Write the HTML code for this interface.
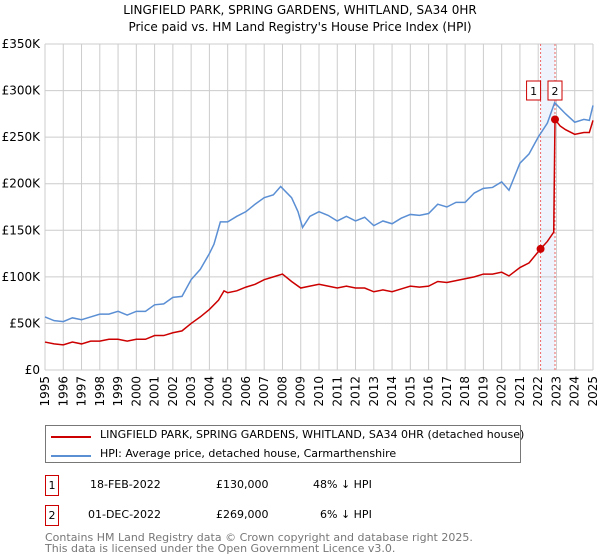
<!DOCTYPE html>
<html><head><meta charset="utf-8"><style>
body{margin:0;background:#fff;font-family:"DejaVu Sans","Liberation Sans",sans-serif;}
#wrap{position:relative;width:600px;height:560px;overflow:hidden}
.t{position:absolute;font-size:12px;color:#000;white-space:nowrap}
</style></head><body><div id="wrap">
<svg id="chart" width="600" height="420" style="position:absolute;left:0;top:0"></svg>
<div style="position:absolute;left:45px;top:425px;width:474px;height:36px;border:1px solid #777"></div>
<div style="position:absolute;left:51px;top:436px;width:40px;height:2px;background:#cc0000"></div>
<div class="t" style="left:100px;top:428px;font-size:11px">LINGFIELD PARK, SPRING GARDENS, WHITLAND, SA34 0HR (detached house)</div>
<div style="position:absolute;left:51px;top:455px;width:40px;height:2px;background:#5b8fd4"></div>
<div class="t" style="left:100px;top:447px;font-size:11px">HPI: Average price, detached house, Carmarthenshire</div>
<div style="position:absolute;left:45px;top:475px;width:12px;height:19px;border:1px solid #cc0000;font-size:11px;text-align:center;line-height:19px">1</div>
<div class="t" style="left:90px;top:478px;font-size:11px">18-FEB-2022</div>
<div class="t" style="left:216px;top:478px;font-size:11px">£130,000</div>
<div class="t" style="left:313px;top:478px;font-size:11px">48% ↓ HPI</div>
<div style="position:absolute;left:45px;top:505px;width:12px;height:19px;border:1px solid #cc0000;font-size:11px;text-align:center;line-height:19px">2</div>
<div class="t" style="left:88px;top:508px;font-size:11px">01-DEC-2022</div>
<div class="t" style="left:216px;top:508px;font-size:11px">£269,000</div>
<div class="t" style="left:320px;top:508px;font-size:11px">6% ↓ HPI</div>
<div class="t" style="left:45px;top:532px;font-size:11px;color:#777;line-height:11px">Contains HM Land Registry data © Crown copyright and database right 2025.<br>This data is licensed under the Open Government Licence v3.0.</div>
</div>
<script>
const yearTicks=[1995,1996,1997,1998,1999,2000,2001,2002,2003,2004,2005,2006,2007,2008,2009,2010,2011,2012,2013,2014,2015,2016,2017,2018,2019,2020,2021,2022,2023,2024,2025];
const priceTicks=[0,50,100,150,200,250,300,350];
const priceLabels=["£0","£50K","£100K","£150K","£200K","£250K","£300K","£350K"];
const hpiT=[1995,1995.5,1996,1996.5,1997,1997.5,1998,1998.5,1999,1999.5,2000,2000.5,2001,2001.5,2002,2002.5,2003,2003.5,2004,2004.25,2004.6,2005,2005.5,2006,2006.5,2007,2007.5,2007.9,2008.5,2008.85,2009.1,2009.5,2010,2010.5,2011,2011.5,2012,2012.5,2013,2013.5,2014,2014.5,2015,2015.5,2016,2016.5,2017,2017.5,2018,2018.5,2019,2019.5,2020,2020.4,2021,2021.5,2022,2022.5,2022.9,2023.5,2024,2024.5,2024.8,2025];
const hpiV=[57,53,52,56,54,57,60,60,63,59,63,63,70,71,78,79,97,108,125,135,159,159,165,170,178,185,188,197,185,170,153,165,170,166,160,165,160,164,155,160,157,163,167,166,168,178,175,180,180,190,195,196,202,193,222,232,250,265,287,275,266,269,268,284];
const ppT=[1995,1995.5,1996,1996.5,1997,1997.5,1998,1998.5,1999,1999.5,2000,2000.5,2001,2001.5,2002,2002.5,2003,2003.5,2004,2004.5,2004.8,2005,2005.5,2006,2006.5,2007,2007.5,2008,2008.5,2009,2009.5,2010,2010.5,2011,2011.5,2012,2012.5,2013,2013.5,2014,2014.5,2015,2015.5,2016,2016.5,2017,2017.5,2018,2018.5,2019,2019.5,2020,2020.4,2021,2021.5,2022.13,2022.5,2022.85,2022.92,2023.2,2023.5,2024,2024.5,2024.8,2025];
const ppV=[30,28,27,30,28,31,31,33,33,31,33,33,37,37,40,42,50,57,65,75,85,83,85,89,92,97,100,103,95,88,90,92,90,88,90,88,88,84,86,84,87,90,89,90,95,94,96,98,100,103,103,105,101,110,115,130,138,148,269,262,258,253,255,255,268];
const saleT=[2022.13,2022.92];
const saleV=[130,269];
const saleLabels=["1","2"];
const NS="http://www.w3.org/2000/svg",svg=document.getElementById('chart');
const x0=45,x1=593,y0=370,y1=44;
const X=t=>x0+(t-1995)*(x1-x0)/30, Y=v=>y0-v*(y0-y1)/350;
function mk(tag,attrs,parent){const e=document.createElementNS(NS,tag);for(const k in attrs)e.setAttribute(k,attrs[k]);(parent||svg).appendChild(e);return e;}
let e=mk('text',{x:300,y:14,'text-anchor':'middle','font-size':12,'font-family':'DejaVu Sans,sans-serif'});e.textContent='LINGFIELD PARK, SPRING GARDENS, WHITLAND, SA34 0HR';

e=mk('text',{x:300,y:31,'text-anchor':'middle','font-size':12,'font-family':'DejaVu Sans,sans-serif'});e.textContent="Price paid vs. HM Land Registry's House Price Index (HPI)";

e=mk('rect',{x:X(saleT[0]),y:y1,width:X(saleT[1])-X(saleT[0]),height:y0-y1,fill:'#eef3fc'});

priceTicks.forEach((v,i)=>{e=mk('line',{x1:x0,x2:x1,y1:Y(v),y2:Y(v),stroke:'#ccc'});

e=mk('text',{x:40,y:Y(v)+4,'text-anchor':'end','font-size':12,'font-family':'DejaVu Sans,sans-serif'});e.textContent=priceLabels[i];
});
yearTicks.forEach(t=>{e=mk('line',{x1:X(t),x2:X(t),y1:y1,y2:y0,stroke:'#ccc'});

e=mk('text',{transform:`translate(${X(t)+4},${y0+6}) rotate(-90)`,'text-anchor':'end','font-size':12,'font-family':'DejaVu Sans,sans-serif'});e.textContent=t;
});
saleT.forEach(t=>{e=mk('line',{x1:X(t),x2:X(t),y1:y1,y2:y0,stroke:'#e66','stroke-dasharray':'2,2'});
});
e=mk('polyline',{points:hpiT.map((t,i)=>X(t)+','+Y(hpiV[i])).join(' '),fill:'none',stroke:'#5b8fd4','stroke-width':1.5});

e=mk('polyline',{points:ppT.map((t,i)=>X(t)+','+Y(ppV[i])).join(' '),fill:'none',stroke:'#cc0000','stroke-width':1.5});

saleT.forEach((t,i)=>{e=mk('circle',{cx:X(t),cy:Y(saleV[i]),r:4,fill:'#cc0000'});

const bx=i==0?X(t)-14:X(t)-7;
e=mk('rect',{x:bx,y:81,width:14,height:19,fill:'#fff',stroke:'#cc0000'});

e=mk('text',{x:bx+7,y:95,'text-anchor':'middle','font-size':11,'font-family':'DejaVu Sans,sans-serif'});e.textContent=saleLabels[i];
});
</script></body></html>
